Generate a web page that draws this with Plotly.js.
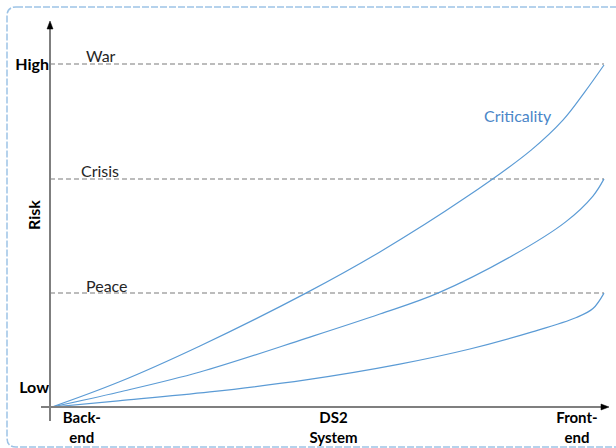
<!DOCTYPE html>
<html>
<head>
<meta charset="utf-8">
<script src="https://cdn.plot.ly/plotly-3.0.1.min.js"></script>
<style>
html,body{margin:0;padding:0;background:#fff;}
#chart{width:616px;height:448px;}
</style>
</head>
<body>
<div id="chart"></div>
<script>
// Curves (x: position Back-end→Front-end, y: risk level)
const xTop = [0, 0.12, 0.268, 0.46, 0.594, 0.748, 0.868, 0.926, 0.965, 1.0];
const yTop = [0, 0.072, 0.178, 0.332, 0.452, 0.609, 0.749, 0.837, 0.918, 0.997];
const xMid = [0, 0.12, 0.268, 0.46, 0.594, 0.699, 0.836, 0.93, 0.98, 1.0];
const yMid = [0, 0.043, 0.102, 0.2, 0.271, 0.332, 0.443, 0.539, 0.615, 0.665];
const xLow = [0, 0.12, 0.286, 0.46, 0.63, 0.757, 0.87, 0.95, 0.98, 1.0];
const yLow = [0, 0.018, 0.044, 0.079, 0.125, 0.169, 0.219, 0.261, 0.287, 0.332];

// Threshold levels
const levelNames = ['War', 'Crisis', 'Peace'];
const levelValues = [1.0, 0.665, 0.332];
const levelLabelX = [0.089, 0.087, 0.1];

// Axis tick labels
const yTickVals = [0.058, 1.0];
const yTickText = ['Low', 'High'];
const xTickVals = [0.054, 0.51, 0.951];
const xTickText = ['Back-<br>end', 'DS2<br>System', 'Front-<br>end'];

const curveColor = '#5B9BD5';
const fontFam = 'Lato, "Open Sans", sans-serif';

const traces = [];
levelValues.forEach(v => {
  traces.push({x: [-0.0036, 1.0], y: [v, v], mode: 'lines', type: 'scatter',
    line: {color: '#A6A6A6', width: 1.5, dash: '5px,3px'}, hoverinfo: 'skip', showlegend: false});
});
[[xTop, yTop], [xMid, yMid], [xLow, yLow]].forEach(([xs, ys]) => {
  traces.push({x: xs, y: ys, mode: 'lines', type: 'scatter',
    line: {color: curveColor, width: 1.2, shape: 'spline', smoothing: 1}, showlegend: false, cliponaxis: false});
});

// geometry helpers (paper coords)
const L = 50, R = 606, T = 24, B = 407;
const px = p => (p - L) / (R - L);
const py = p => (B - p) / (B - T);

function roundRect(x0p, y0p, x1p, y1p, r) {
  const x0 = px(x0p), x1 = px(x1p), y0 = py(y1p), y1 = py(y0p);
  const dx = r / (R - L), dy = r / (B - T);
  return `M${x0+dx},${y1} L${x1-dx},${y1} Q${x1},${y1} ${x1},${y1-dy} L${x1},${y0+dy} Q${x1},${y0} ${x1-dx},${y0} ` +
         `L${x0+dx},${y0} Q${x0},${y0} ${x0},${y0+dy} L${x0},${y1-dy} Q${x0},${y1} ${x0+dx},${y1} Z`;
}

const shapes = [
  {type: 'path', xref: 'paper', yref: 'paper', path: roundRect(7, 7, 624, 447, 9),
   line: {color: '#9DC3E6', width: 1.5, dash: '7px,2px'}, layer: 'below'},
  // y axis
  {type: 'line', xref: 'paper', yref: 'paper', x0: 0, x1: 0, y0: py(421), y1: py(27),
   line: {color: '#7F7F7F', width: 2}},
  // x axis
  {type: 'line', xref: 'paper', yref: 'paper', x0: px(41), x1: px(604), y0: 0, y1: 0,
   line: {color: '#7F7F7F', width: 2}},
  // arrowheads
  {type: 'path', xref: 'paper', yref: 'paper',
   path: `M${px(47)},${py(29)} L${px(50)},${py(21)} L${px(53)},${py(29)} Z`,
   fillcolor: '#000', line: {color: '#000', width: 0.5}},
  {type: 'path', xref: 'paper', yref: 'paper',
   path: `M${px(601)},${py(404)} L${px(609)},${py(407)} L${px(601)},${py(410)} Z`,
   fillcolor: '#000', line: {color: '#000', width: 0.5}}
];

const annotations = levelNames.map((n, i) => ({
  x: levelLabelX[i], y: levelValues[i], xref: 'x', yref: 'y', text: n, showarrow: false,
  yanchor: 'middle', yshift: 8, font: {family: fontFam, size: 16, color: '#262626'}
}));
annotations.push({x: 0.844, y: 0.851, xref: 'x', yref: 'y', text: 'Criticality', showarrow: false,
  font: {family: fontFam, size: 16, color: '#4A86C8'}});
annotations.push({x: px(33), y: py(215), xref: 'paper', yref: 'paper', text: '<b>Risk</b>', showarrow: false,
  xanchor: 'center', yanchor: 'middle',
  textangle: -90, font: {family: fontFam, size: 16, color: '#000'}});

const layout = {
  width: 616, height: 448,
  margin: {l: L, r: 616 - R, t: T, b: 448 - B},
  paper_bgcolor: '#fff', plot_bgcolor: 'rgba(0,0,0,0)',
  xaxis: {range: [-0.003623, 1.003623], showgrid: false, zeroline: false, showline: false,
    tickvals: xTickVals, ticktext: xTickText.map(t => '<b>' + t.replace('<br>', '</b><br><b>') + '</b>'),
    ticks: '', tickfont: {family: fontFam, size: 15, color: '#000'}, fixedrange: true},
  yaxis: {range: [0, 1.1166], showgrid: false, zeroline: false, showline: false,
    tickvals: yTickVals, ticktext: yTickText.map(t => '<b>' + t + '</b>'),
    ticks: '', tickfont: {family: fontFam, size: 16, color: '#000'}, fixedrange: true},
  shapes: shapes, annotations: annotations, showlegend: false
};

Plotly.newPlot('chart', traces, layout, {displayModeBar: false, staticPlot: true});
</script>
</body>
</html>
